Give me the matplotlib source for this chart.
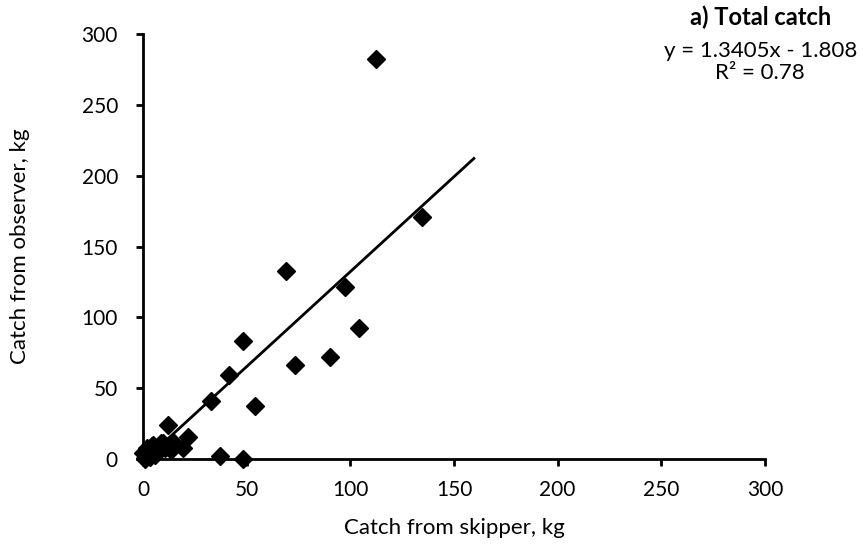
import numpy as np
import matplotlib
matplotlib.use("Agg")
from matplotlib import pyplot as plt

plt.rcParams['font.family'] = ['Lato', 'DejaVu Sans']

# catch estimates, kg
skipper = [112.2, 134.6, 68.8, 97.5, 104.0, 90.0, 73.4, 48.2, 41.5, 32.8, 53.8,
           12.0, 21.7, 19.5, 37.0, 48.2, 14.5, 13.5,
           0.2, 1.0, 1.8, 3.0, 4.2, 5.0, 6.5, 7.5, 8.5, 9.8, 3.4, 2.0, 0.8, 6.0, 10.5]
observer = [282.4, 171.1, 132.5, 121.2, 92.5, 71.8, 66.6, 83.0, 59.5, 41.0, 37.2,
            24.0, 15.3, 7.5, 2.0, 0.3, 12.0, 6.0,
            4.0, 0.0, 7.5, 6.0, 9.5, 10.0, 5.0, 9.0, 11.0, 11.5, 1.6, 2.5, 1.0, 3.0, 8.0]
slope, intercept = 1.3405, -1.808
fit_x = np.array([0, 159.6])

fig = plt.figure(figsize=(8.63, 5.54), dpi=100)
ax = fig.add_axes([0.1657, 0.1715, 0.7207, 0.7671])

ax.plot(fit_x, slope * fit_x + intercept, color='black', lw=2, zorder=2)
ax.plot(skipper, observer, 'D', color='black', ms=9.5, clip_on=False, zorder=3)

ax.set_xlim(0, 300)
ax.set_ylim(0, 300)
ax.set_xticks(range(0, 301, 50))
ax.set_yticks(range(0, 301, 50))
for s in ['top', 'right']:
    ax.spines[s].set_visible(False)
for s in ['left', 'bottom']:
    ax.spines[s].set_linewidth(2)
ax.tick_params(direction='out', length=5, width=2, labelsize=15)
ax.tick_params(axis='x', pad=10)
ax.tick_params(axis='y', pad=13)
ax.set_xlabel('Catch from skipper, kg', fontsize=16, va='center')
ax.set_ylabel('Catch from observer, kg', fontsize=16, va='center')
ax.xaxis.set_label_coords(0.5, -0.162)
ax.yaxis.set_label_coords(-0.198, 0.5)

fig.text(0.881, 0.969, 'a) Total catch', fontsize=17, fontweight='bold',
         ha='center', va='center')
fig.text(0.881, 0.908, 'y = 1.3405x - 1.808', fontsize=16, ha='center', va='center')
fig.text(0.881, 0.868, 'R² = 0.78', fontsize=16, ha='center', va='center')

fig.savefig('out.png', dpi=100)
